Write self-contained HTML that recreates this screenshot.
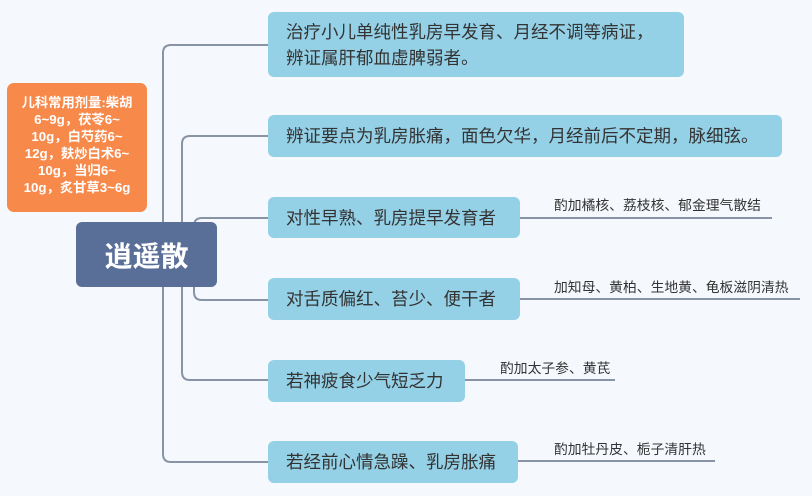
<!DOCTYPE html><html><head><meta charset="utf-8"><style>
body{margin:0;width:812px;height:496px;background:#f5f9fe;position:relative;overflow:hidden;font-family:"Liberation Sans","Noto Sans CJK SC",sans-serif}
.n{position:absolute;background:#94d0e6;border-radius:6px;color:#333;font-size:17.5px;box-sizing:border-box;padding-left:18px;display:flex;align-items:center;line-height:26px;white-space:nowrap}
.l{position:absolute;font-size:13.8px;color:#333;white-space:nowrap}
</style></head><body>
<svg width="812" height="496" style="position:absolute;left:0;top:0" fill="none" stroke="#8893a5" stroke-width="2">
<path d="M268 45H171Q163 45 163 53V454Q163 462 171 462H268"/>
<path d="M268 136H190Q182 136 182 144V372Q182 380 190 380H268"/>
<path d="M268 218H202Q194 218 194 226V292Q194 300 202 300H268"/>
<path d="M520 218H772M520 299H800M465 380H615M518 461H715"/>
</svg>
<div style="position:absolute;left:7px;top:83px;width:140px;height:129px;background:#f7894a;border-radius:7px;color:#fff;font-weight:bold;font-size:13.3px;line-height:17px;text-align:center;padding-top:11px;box-sizing:border-box;white-space:nowrap">儿科常用剂量:柴胡<br>6~9g，茯苓6~<br>10g，白芍药6~<br>12g，麸炒白术6~<br>10g，当归6~<br>10g，炙甘草3~6g</div>
<div style="position:absolute;left:76px;top:222px;width:141px;height:65px;background:#5a6f98;border-radius:6px;color:#fff;font-weight:bold;font-size:28px;display:flex;align-items:center;justify-content:center">逍遥散</div>
<div class="n" style="left:268px;top:12px;width:416px;height:65px">治疗小儿单纯性乳房早发育、月经不调等病证，<br>辨证属肝郁血虚脾弱者。</div>
<div class="n" style="left:268px;top:115px;width:514px;height:42px">辨证要点为乳房胀痛，面色欠华，月经前后不定期，脉细弦。</div>
<div class="n" style="left:268px;top:197px;width:252px;height:41px">对性早熟、乳房提早发育者</div>
<div class="n" style="left:268px;top:278px;width:252px;height:42px">对舌质偏红、苔少、便干者</div>
<div class="n" style="left:268px;top:360px;width:197px;height:42px">若神疲食少气短乏力</div>
<div class="n" style="left:268px;top:441px;width:250px;height:42px">若经前心情急躁、乳房胀痛</div>
<div class="l" style="left:554px;top:194px">酌加橘核、荔枝核、郁金理气散结</div>
<div class="l" style="left:554px;top:276px">加知母、黄柏、生地黄、龟板滋阴清热</div>
<div class="l" style="left:500px;top:357px">酌加太子参、黄芪</div>
<div class="l" style="left:554px;top:438px">酌加牡丹皮、栀子清肝热</div>
</body></html>
